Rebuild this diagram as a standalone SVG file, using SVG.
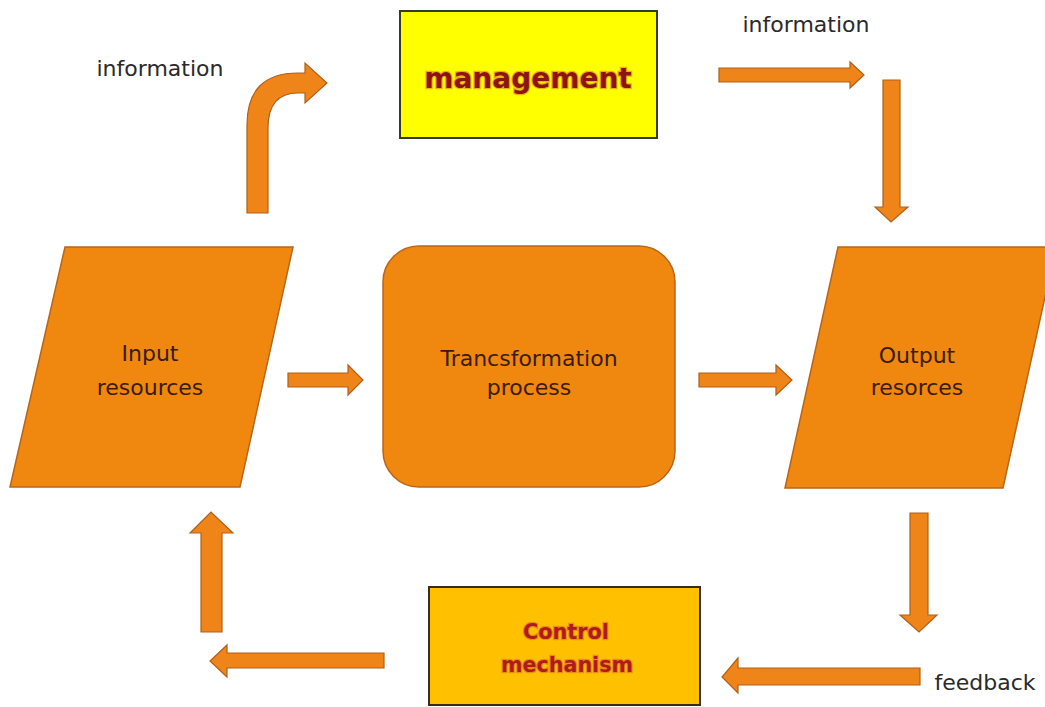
<svg xmlns="http://www.w3.org/2000/svg" width="1045" height="707" viewBox="0 0 1045 707">
  <style>
    .arrow { fill: #EF8418; stroke: #B0601A; stroke-width: 1.2; stroke-linejoin: miter; }
    .shape { fill: #F0870F; stroke: #B8651C; stroke-width: 1.5; }
    .label { font-family: "DejaVu Sans", Verdana, sans-serif; font-size: 22px; fill: #2a2a2a; text-anchor: middle; }
    .node-text { font-family: "DejaVu Sans", Verdana, sans-serif; font-size: 22px; fill: #3a1c08; text-anchor: middle; }
    .red-text { font-family: "DejaVu Sans", Verdana, sans-serif; font-weight: bold; text-anchor: middle;
                stroke: #d05030; stroke-opacity: 0.45; stroke-width: 2.5; paint-order: stroke; }
  </style>

  <rect width="1045" height="707" fill="#ffffff"/>

  <!-- connectors -->
  <g id="connectors">
    <!-- input -> management (bent arrow) -->
    <path class="arrow" d="M247,213 L247,125 Q247,73 298,73 L305,73 L305,63 L327,83 L305,103 L305,93 L298,93 Q268,93 268,128 L268,213 Z"/>
    <!-- management -> right -->
    <path class="arrow" d="M719,68 L850,68 L850,62 L864,75 L850,88 L850,82 L719,82 Z"/>
    <!-- down to output -->
    <path class="arrow" d="M883,80 L900,80 L900,207 L908,207 L891,222 L875,207 L883,207 Z"/>
    <!-- input -> transformation -->
    <path class="arrow" d="M288,373 L348,373 L348,365 L363,380 L348,395 L348,387 L288,387 Z"/>
    <!-- transformation -> output -->
    <path class="arrow" d="M699,373 L776,373 L776,365 L792,380 L776,395 L776,387 L699,387 Z"/>
    <!-- output -> down -->
    <path class="arrow" d="M910,513 L928,513 L928,615 L937,615 L919,632 L900,615 L910,615 Z"/>
    <!-- feedback -> control -->
    <path class="arrow" d="M920,668 L738,668 L738,658 L722,677 L738,693 L738,685 L920,685 Z"/>
    <!-- control -> left -->
    <path class="arrow" d="M384,653 L227,653 L227,645 L210,661 L227,677 L227,668 L384,668 Z"/>
    <!-- up to input -->
    <path class="arrow" d="M201,632 L201,533 L190,533 L211,512 L233,533 L222,533 L222,632 Z"/>
  </g>

  <!-- connector labels -->
  <text class="label" x="160" y="76">information</text>
  <text class="label" x="806" y="32">information</text>
  <text class="label" x="985" y="690">feedback</text>

  <g id="management">
    <rect x="400" y="11" width="257" height="127" fill="#FFFF00" stroke="#3a3a2a" stroke-width="2"/>
    <text class="red-text" x="528" y="88" font-size="28" fill="#8E1414">management</text>
  </g>

  <g id="input-resources">
    <polygon class="shape" points="65,247 293,247 240,487 10,487"/>
    <text class="node-text" x="150" y="361">Input</text>
    <text class="node-text" x="150" y="395">resources</text>
  </g>

  <g id="transformation-process">
    <rect class="shape" x="383" y="246" width="292" height="241" rx="36" ry="36"/>
    <text class="node-text" x="529" y="366">Trancsformation</text>
    <text class="node-text" x="529" y="395">process</text>
  </g>

  <g id="output-resources">
    <polygon class="shape" points="838,247 1056,247 1003,488 785,488"/>
    <text class="node-text" x="917" y="363">Output</text>
    <text class="node-text" x="917" y="395">resorces</text>
  </g>

  <g id="control-mechanism">
    <rect x="429" y="587" width="271" height="118" fill="#FFC000" stroke="#3a2a1a" stroke-width="2"/>
    <text class="red-text" x="566" y="639" font-size="22" fill="#B01A1A" textLength="86" lengthAdjust="spacingAndGlyphs">Control</text>
    <text class="red-text" x="567" y="672" font-size="22" fill="#B01A1A" textLength="132" lengthAdjust="spacingAndGlyphs">mechanism</text>
  </g>
</svg>
